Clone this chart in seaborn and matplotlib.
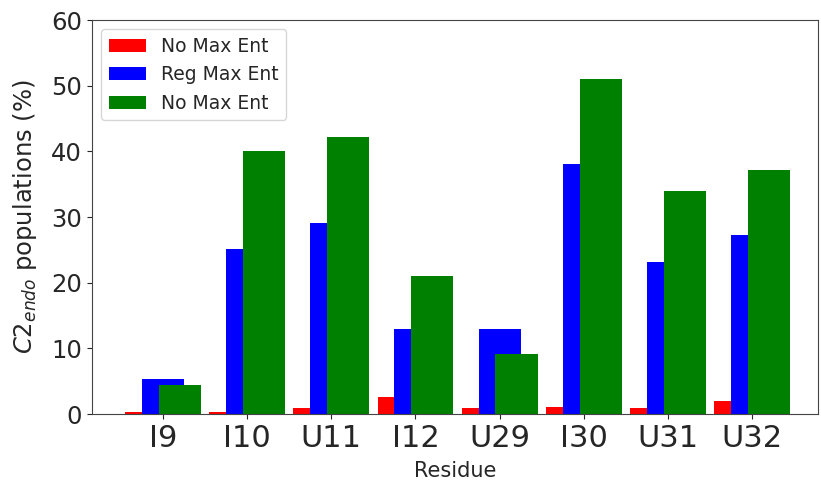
import matplotlib
matplotlib.use("Agg")
import matplotlib.pyplot as plt
import seaborn as sns
import pandas as pd

residues = ["I9", "I10", "U11", "I12", "U29", "I30", "U31", "U32"]
no_max_ent = [0.25, 0.25, 0.87, 2.6, 0.87, 1.07, 0.87, 2.0]
reg_max_ent = [5.3, 25.1, 29.1, 13.0, 13.0, 38.0, 23.2, 27.2]
no_max_ent2 = [4.4, 40.0, 42.2, 21.0, 9.1, 51.0, 34.0, 37.1]
series_labels = ["No Max Ent", "Reg Max Ent", "No Max Ent"]
series_colors = ["red", "blue", "green"]
offsets = [-0.2, 0.0, 0.2]

sns.set_style("ticks")
fig = plt.figure(figsize=(8.21, 4.82), dpi=100)
ax = fig.add_axes([0.112, 0.141, 0.884, 0.8175])

for vals, lab, col, off in zip([no_max_ent, reg_max_ent, no_max_ent2],
                               series_labels, series_colors, offsets):
    df = pd.DataFrame({"Residue": residues, "val": vals})
    n_before = len(ax.patches)
    sns.barplot(data=df, x="Residue", y="val", color=col, width=0.5,
                label=lab, ax=ax, saturation=1, errorbar=None)
    for p in ax.patches[n_before:]:
        p.set_x(p.get_x() + off)
        p.set_edgecolor("none")

ax.set_xlim(-0.845, 7.78)
ax.set_ylim(0, 60)
ax.set_yticks(range(0, 61, 10))
ax.tick_params(axis="x", labelsize=22)
ax.tick_params(axis="y", labelsize=17.5)
ax.set_xlabel("Residue", fontsize=15, labelpad=6)
ax.set_ylabel("$C2_{endo}$ populations (%)", fontsize=17.5, labelpad=9)
for s in ax.spines.values():
    s.set_visible(True)
    s.set_color("#444444")
ax.legend(loc="upper left", fontsize=13.5)
fig.savefig("out.png", dpi=100)
